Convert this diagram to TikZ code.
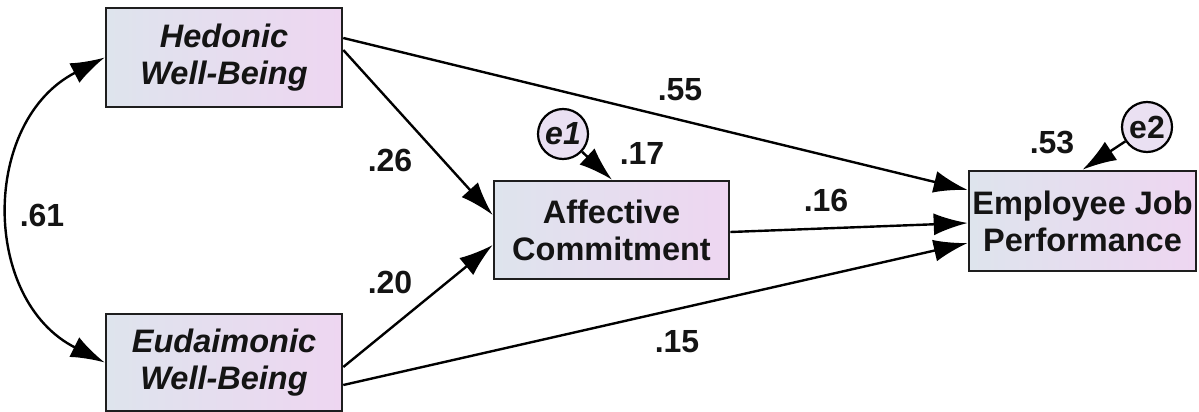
\documentclass[tikz,border=0pt]{standalone}
\usepackage{fontspec}
\setmainfont{Liberation Sans}
\usetikzlibrary{arrows.meta}
\definecolor{boxL}{RGB}{222,228,237}
\definecolor{boxR}{RGB}{238,214,241}
\definecolor{errfill}{RGB}{234,224,242}
\definecolor{edge}{RGB}{30,30,30}
\definecolor{ink}{RGB}{20,20,20}
\begin{document}
\begin{tikzpicture}[x=1pt,y=-1pt,
  var/.style={draw=edge, line width=2.6pt, left color=boxL, right color=boxR,
    minimum width=236pt, minimum height=99pt, inner sep=0pt, align=center, text=ink,
    font=\fontsize{32.5}{37}\selectfont\bfseries},
  ivar/.style={var, font=\fontsize{32.5}{37}\selectfont\bfseries\itshape},
  err/.style={circle, draw=black, line width=2.2pt, fill=errfill, minimum size=50pt,
    inner sep=0pt, text=ink, font=\fontsize{32}{32}\selectfont\bfseries},
  arr/.style={line width=2.4pt, -{Latex[length=34pt,width=22pt]}},
  darr/.style={line width=2.4pt, {Latex[length=34pt,width=22pt]}-{Latex[length=34pt,width=22pt]}},
  lab/.style={inner sep=0pt, text=ink, font=\fontsize{32}{32}\selectfont\bfseries}]
\useasboundingbox (0,0) rectangle (1199,412);
\fill[white] (0,0) rectangle (1199,412);

\node[ivar] (H) at (224,57.5) {Hedonic\\Well-Being};
\node[ivar, minimum height=97pt] (E) at (224,362.5) {Eudaimonic\\Well-Being};
\node[var, minimum width=235pt, minimum height=98pt] (A) at (611.5,230) {Affective\\Commitment};
\node[var, minimum width=227pt, minimum height=100pt] (J) at (1082.5,221) {Employee Job\\Performance};
\node[err, font=\fontsize{32}{32}\selectfont\bfseries\itshape] (e1) at (563,134) {e1};
\node[err] (e2) at (1147,127) {e2};

\draw[arr] ([yshift=19.5pt]H.east) -- ([yshift=31pt]J.west);
\draw[arr] ([yshift=7.5pt]H.east) -- ([yshift=15pt]A.west);
\draw[arr] ([yshift=-4.5pt]E.east) -- ([yshift=-15pt]A.west);
\draw[arr] ([yshift=-22.5pt]E.east) -- ([yshift=-22pt]J.west);
\draw[arr] ([yshift=-2pt]A.east) -- ([yshift=-2pt]J.west);
\draw[arr] (e1) -- ([xshift=0.5pt]A.north);
\draw[arr] (e2) -- (J.north);
\draw[darr] (H.west) .. controls (-19,121) and (-19,300) .. (E.west);

\node[lab] (l61) at (42,215) {.61};
\node[lab] (l26) at (390,160) {.26};
\node[lab] (l20) at (390,282) {.20};
\node[lab] (l55) at (680,90) {.55};
\node[lab] (l17) at (642,153) {.17};
\node[lab] (l16) at (826,200) {.16};
\node[lab] (l15) at (677,342) {.15};
\node[lab] (l53) at (1052,143) {.53};
\end{tikzpicture}
\end{document}
